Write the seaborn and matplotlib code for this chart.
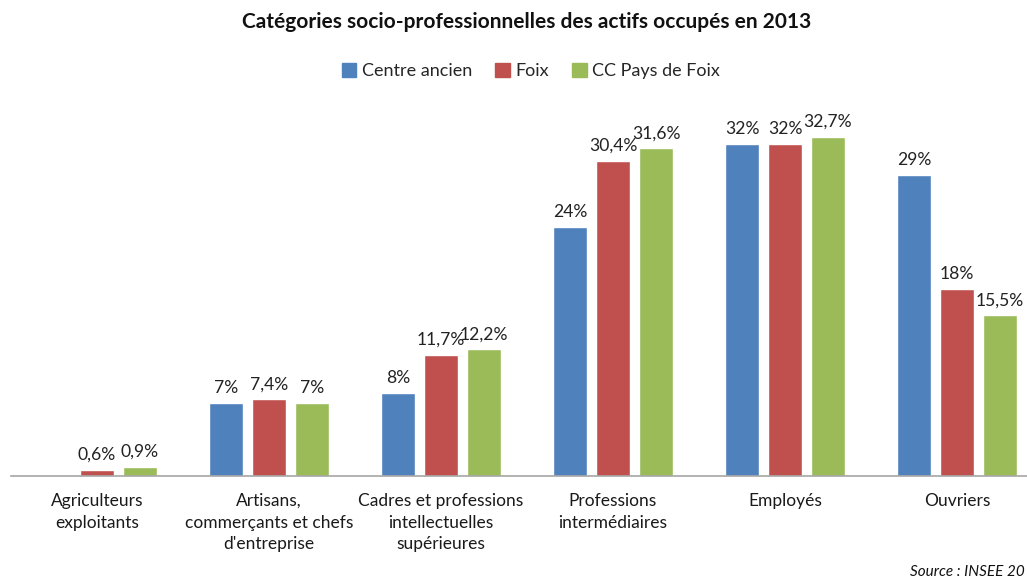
import matplotlib
matplotlib.use("Agg")
import matplotlib.pyplot as plt
import seaborn as sns
import pandas as pd
import numpy as np

categories = ["Agriculteurs\nexploitants",
              "Artisans,\ncommerçants et chefs\nd'entreprise",
              "Cadres et professions\nintellectuelles\nsupérieures",
              "Professions\nintermédiaires",
              "Employés",
              "Ouvriers"]
series = ["Centre ancien", "Foix", "CC Pays de Foix"]
centre_ancien = [np.nan, 7, 8, 24, 32, 29]
foix = [0.6, 7.4, 11.7, 30.4, 32, 18]
cc_pays_de_foix = [0.9, 7, 12.2, 31.6, 32.7, 15.5]
colors = ["#4F81BD", "#C0504D", "#9BBB59"]

rows = []
for s, vals in zip(series, [centre_ancien, foix, cc_pays_de_foix]):
    for c, v in zip(categories, vals):
        rows.append({"cat": c, "serie": s, "val": 0.0 if np.isnan(v) else v})
df = pd.DataFrame(rows)

sns.set_theme(style="white")
plt.rcParams['font.family'] = ['Lato', 'DejaVu Sans']

fig = plt.figure(figsize=(10.27, 5.8), dpi=100)
W, H = 1027, 580
ax = fig.add_axes([11 / W, (H - 476) / H, (W - 11) / W, 363 / H])

sns.barplot(data=df, x="cat", y="val", hue="serie", palette=colors,
            order=categories, hue_order=series, width=0.75, gap=0.2,
            errorbar=None, ax=ax, legend=False, saturation=1)

def fmt(v):
    if np.isnan(v):
        return ""
    return f"{v:g}".replace(".", ",") + "%"

for cont, vals in zip(ax.containers, [centre_ancien, foix, cc_pays_de_foix]):
    ax.bar_label(cont, labels=[fmt(v) for v in vals], padding=5,
                 fontsize=12.6, color="#222222")

ax.set_xlim(-0.5, -0.5 + (W - 11) / 172)
ax.set_ylim(0, 35)
ax.set_yticks([])
ax.set_xlabel("")
ax.set_ylabel("")
ax.tick_params(axis="x", length=0, pad=12, labelsize=12.5, labelcolor="#1a1a1a")
for lbl in ax.get_xticklabels():
    lbl.set_linespacing(1.45)
for sp in ["top", "right", "left"]:
    ax.spines[sp].set_visible(False)
ax.spines["bottom"].set_color("#A6A6A6")
ax.spines["bottom"].set_linewidth(1.2)

fig.text(527 / W, 1 - 22 / H, "Catégories socio-professionnelles des actifs occupés en 2013",
         ha="center", va="center", fontsize=15, fontweight="bold", color="#111111")

handles = [plt.Rectangle((0, 0), 1, 1, color=c) for c in colors]
fig.legend(handles, series, loc="center", bbox_to_anchor=(531 / W, 1 - 71 / H),
           ncol=3, frameon=False, fontsize=13, handlelength=0.8, handleheight=0.8,
           handletextpad=0.3, columnspacing=1.3)

fig.text(1025 / W, 1 - 572 / H, "Source : INSEE 20", ha="right", va="center",
         fontsize=11, style="italic", color="#111111")

fig.savefig("out.png", dpi=100)
